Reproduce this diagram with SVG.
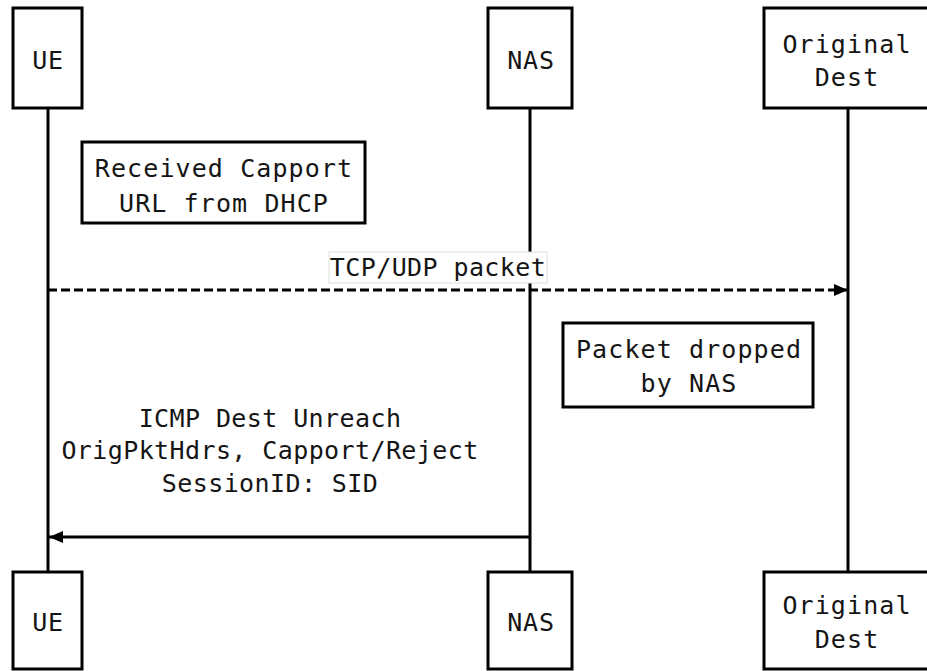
<svg xmlns="http://www.w3.org/2000/svg" width="927" height="671" viewBox="0 0 927 671">
  <style>
    .box { fill: #ffffff; stroke: #000000; stroke-width: 3; }
    .life { stroke: #000000; stroke-width: 3; fill: none; }
    .msg { stroke: #000000; stroke-width: 3; fill: none; }
    .dash { stroke-dasharray: 9 4; }
    text { font-family: "DejaVu Sans Mono", "Liberation Mono", monospace; font-size: 25px; letter-spacing: 0.8px; fill: #151515; text-anchor: middle; }
    .wide { letter-spacing: 1.1px; }
    .tight { letter-spacing: 0.4px; }
    .lblbg { fill: #ffffff; stroke: #dddddd; stroke-width: 1; }
  </style>
  <defs>
    <marker id="arrow" viewBox="0 0 14 12" refX="14" refY="6" markerWidth="14" markerHeight="12" markerUnits="userSpaceOnUse" orient="auto">
      <path d="M0,0 L14,6 L0,12 Z" fill="#000000"/>
    </marker>
  </defs>

  <rect width="927" height="671" fill="#ffffff"/>

  <!-- lifelines -->
  <g id="lifelines">
    <line class="life" x1="48" y1="108" x2="48" y2="572"/>
    <line class="life" x1="530" y1="108" x2="530" y2="572"/>
    <line class="life" x1="848" y1="108" x2="848" y2="572"/>
  </g>

  <!-- participants, top -->
  <g id="ue-top">
    <rect class="box" x="13" y="8" width="69" height="100"/>
    <text x="48" y="69">UE</text>
  </g>
  <g id="nas-top">
    <rect class="box" x="488" y="8" width="84" height="100"/>
    <text x="531" y="69">NAS</text>
  </g>
  <g id="dest-top">
    <rect class="box" x="764" y="8" width="168" height="100"/>
    <text class="wide" x="847" y="53">Original</text>
    <text class="wide" x="847" y="86">Dest</text>
  </g>

  <!-- notes -->
  <g id="note-dhcp">
    <rect class="box" x="82" y="142" width="283" height="81"/>
    <text class="wide" x="224" y="177">Received Capport</text>
    <text class="wide" x="224" y="212">URL from DHCP</text>
  </g>
  <g id="note-dropped">
    <rect class="box" x="563" y="323" width="250" height="84"/>
    <text class="wide" x="689" y="358">Packet dropped</text>
    <text class="wide" x="689" y="392">by NAS</text>
  </g>

  <!-- messages -->
  <g id="connectors">
    <line class="msg dash" x1="48" y1="290" x2="848" y2="290" marker-end="url(#arrow)"/>
    <rect class="lblbg" x="329" y="252" width="218" height="31"/>
    <text class="tight" x="438" y="276">TCP/UDP packet</text>

    <line class="msg" x1="530" y1="537" x2="49" y2="537" marker-end="url(#arrow)"/>
    <text class="tight" x="270" y="427">ICMP Dest Unreach</text>
    <text class="tight" x="270" y="459">OrigPktHdrs, Capport/Reject</text>
    <text class="tight" x="270" y="492">SessionID: SID</text>
  </g>

  <!-- participants, bottom -->
  <g id="ue-bottom">
    <rect class="box" x="13" y="572" width="69" height="97"/>
    <text x="48" y="631">UE</text>
  </g>
  <g id="nas-bottom">
    <rect class="box" x="488" y="572" width="84" height="97"/>
    <text x="531" y="631">NAS</text>
  </g>
  <g id="dest-bottom">
    <rect class="box" x="764" y="572" width="168" height="97"/>
    <text class="wide" x="847" y="614">Original</text>
    <text class="wide" x="847" y="648">Dest</text>
  </g>
</svg>
